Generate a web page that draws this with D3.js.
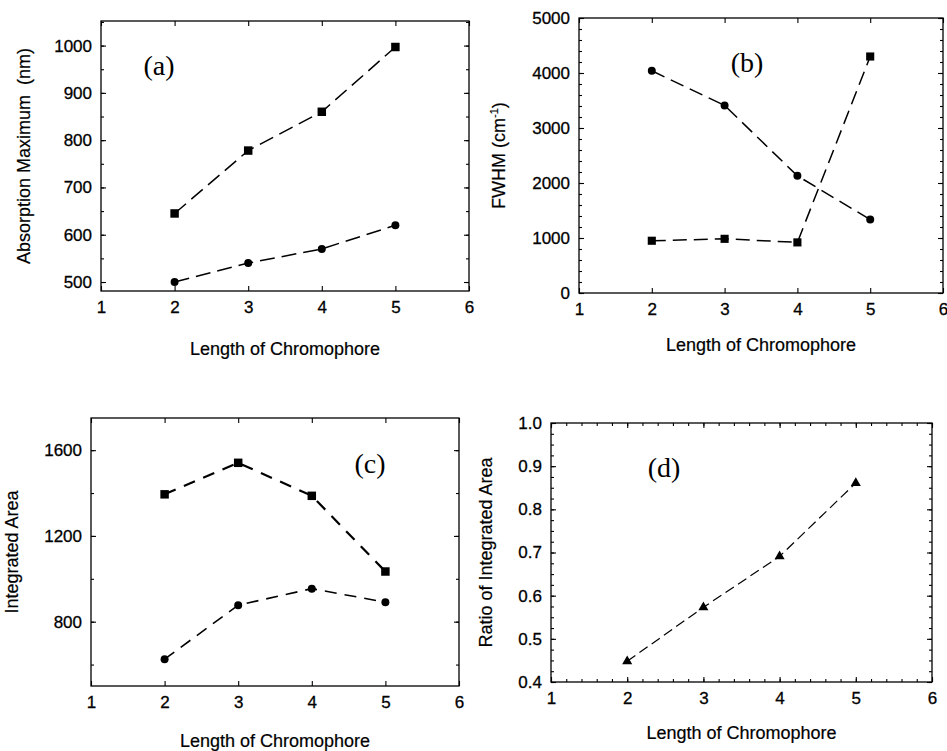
<!DOCTYPE html>
<html>
<head>
<meta charset="utf-8">
<script src="https://cdn.jsdelivr.net/npm/d3@7"></script>
<style>
  body { margin: 0; background: #fff; }
  svg { display: block; }
</style>
</head>
<body>
<svg id="chart" width="947" height="751"></svg>
<script>
// values
let chromoLength = [2, 3, 4, 5];
let xTicks = [1, 2, 3, 4, 5, 6];

// (a) absorption maximum, nm
let absMaxSquare = [645, 778, 860, 997];
let absMaxCircle = [500, 540, 570, 620];
let absTicks = [500, 600, 700, 800, 900, 1000];

// (b) FWHM, cm-1
let fwhmCircle = [4040, 3410, 2130, 1335];
let fwhmSquare = [950, 985, 920, 4300];
let fwhmTicks = [0, 1000, 2000, 3000, 4000, 5000];

// (c) integrated area
let areaSquare = [1394, 1541, 1387, 1034];
let areaCircle = [625, 877, 954, 891];
let areaTicks = [800, 1200, 1600];

// (d) ratio of integrated area
let areaRatio = [0.448, 0.573, 0.691, 0.861];
let ratioTicks = [0.4, 0.5, 0.6, 0.7, 0.8, 0.9, 1.0];

let xTitle = 'Length of Chromophore';

let svg = d3.select('#chart');
let sans = '"Liberation Sans", Arial, sans-serif';

let panels = [
  {
    tag: '(a)', box: {l: 101, t: 21, r: 469, b: 291}, tagPos: [159, 75],
    yDomain: [481, 1052], yTicks: absTicks, yMinor: d3.range(500, 1052, 50),
    yFormat: d3.format('d'), xMinor: [],
    yLabel: 'Absorption Maximum\u00a0\u00a0(nm)', yLabelX: 30, xLabelDy: 64,
    series: [
      {values: absMaxSquare, shape: d3.symbolSquare, size: 72, dash: '15,7', width: 1.5},
      {values: absMaxCircle, shape: d3.symbolCircle, size: 50, dash: '15,7', width: 1.5}
    ]
  },
  {
    tag: '(b)', box: {l: 579, t: 18, r: 943, b: 293}, tagPos: [747, 72],
    yDomain: [0, 5000], yTicks: fwhmTicks, yMinor: d3.range(0, 5001, 200),
    yFormat: d3.format('d'), xMinor: [],
    yLabel: 'FWHM', yLabelX: 505, xLabelDy: 58, superscript: true,
    series: [
      {values: fwhmCircle, shape: d3.symbolCircle, size: 50, dash: '14,7', width: 1.5},
      {values: fwhmSquare, shape: d3.symbolSquare, size: 66, dash: '14,7', width: 1.5}
    ]
  },
  {
    tag: '(c)', box: {l: 91, t: 418, r: 459, b: 686}, tagPos: [370, 473],
    yDomain: [500, 1750], yTicks: areaTicks, yMinor: d3.range(600, 1750, 200),
    yFormat: d3.format('d'), xMinor: [],
    yLabel: 'Integrated Area', yLabelX: 18, xLabelDy: 61,
    series: [
      {values: areaSquare, shape: d3.symbolSquare, size: 72, dash: '12,9', width: 2.2},
      {values: areaCircle, shape: d3.symbolCircle, size: 50, dash: '12,8', width: 1.6}
    ]
  },
  {
    tag: '(d)', box: {l: 551, t: 423, r: 932, b: 682}, tagPos: [664, 477],
    yDomain: [0.4, 1.0], yTicks: ratioTicks, yMinor: d3.range(0.4, 1.0001, 0.025),
    yFormat: d3.format('.1f'), xMinor: d3.range(1, 6.001, 0.2),
    yLabel: 'Ratio of Integrated Area', yLabelX: 492, xLabelDy: 57,
    series: [
      {values: areaRatio, shape: d3.symbolTriangle, size: 44, dash: '10,5', width: 1.2}
    ]
  }
];

let drawPanel = (p) => {
  let box = p.box;
  let x = d3.scaleLinear().domain([1, 6]).range([box.l, box.r]);
  let y = d3.scaleLinear().domain(p.yDomain).range([box.b, box.t]);
  let g = svg.append('g');

  // major ticks with labels on left and bottom, mirrored on top and right
  g.append('g').attr('transform', `translate(0,${box.b})`).
  call(d3.axisBottom(x).tickValues(xTicks).tickSizeInner(-5).tickSizeOuter(0).tickPadding(10).tickFormat(d3.format('d')));
  g.append('g').attr('transform', `translate(${box.l},0)`).
  call(d3.axisLeft(y).tickValues(p.yTicks).tickSizeInner(-5).tickSizeOuter(0).tickPadding(9).tickFormat(p.yFormat));
  g.append('g').attr('transform', `translate(0,${box.t})`).
  call(d3.axisTop(x).tickValues(xTicks).tickSizeInner(-5).tickSizeOuter(0).tickFormat(''));
  g.append('g').attr('transform', `translate(${box.r},0)`).
  call(d3.axisRight(y).tickValues(p.yTicks).tickSizeInner(-5).tickSizeOuter(0).tickFormat(''));

  // minor ticks
  g.append('g').attr('transform', `translate(${box.l},0)`).
  call(d3.axisLeft(y).tickValues(p.yMinor).tickSizeInner(-3).tickSizeOuter(0).tickFormat(''));
  g.append('g').attr('transform', `translate(${box.r},0)`).
  call(d3.axisRight(y).tickValues(p.yMinor).tickSizeInner(-3).tickSizeOuter(0).tickFormat(''));
  g.append('g').attr('transform', `translate(0,${box.b})`).
  call(d3.axisBottom(x).tickValues(p.xMinor).tickSizeInner(-3).tickSizeOuter(0).tickFormat(''));
  g.append('g').attr('transform', `translate(0,${box.t})`).
  call(d3.axisTop(x).tickValues(p.xMinor).tickSizeInner(-3).tickSizeOuter(0).tickFormat(''));

  g.selectAll('.domain').remove();
  g.selectAll('.tick line').attr('stroke', '#000').attr('stroke-width', 1.1);
  g.selectAll('.tick text').
  attr('fill', '#000').
  attr('stroke', '#000').attr('stroke-width', 0.3).
  attr('font-family', sans).
  attr('font-size', 17);

  // frame
  g.append('rect').
  attr('x', box.l).attr('y', box.t).
  attr('width', box.r - box.l).attr('height', box.b - box.t).
  attr('fill', 'none').attr('stroke', '#000').attr('stroke-width', 1.3);

  // series
  let line = d3.line().x((d, i) => x(chromoLength[i])).y(d => y(d));
  p.series.forEach(s => {
    g.append('path').
    datum(s.values).
    attr('d', line).
    attr('fill', 'none').
    attr('stroke', '#000').
    attr('stroke-width', s.width).
    attr('stroke-dasharray', s.dash);

    g.selectAll(null).
    data(s.values).
    enter().
    append('path').
    attr('d', d3.symbol().type(s.shape).size(s.size)).
    attr('transform', (d, i) => `translate(${x(chromoLength[i])},${y(d)})`).
    attr('fill', '#000');
  });

  // panel tag
  g.append('text').
  attr('x', p.tagPos[0]).attr('y', p.tagPos[1]).
  attr('text-anchor', 'middle').
  attr('font-family', '"Liberation Serif", "Times New Roman", serif').
  attr('font-size', 28).
  text(p.tag);

  // axis titles
  g.append('text').
  attr('x', (box.l + box.r) / 2).
  attr('y', box.b + p.xLabelDy).
  attr('text-anchor', 'middle').
  attr('font-family', sans).
  attr('font-size', 18).
  attr('stroke', '#000').attr('stroke-width', 0.2).
  text(xTitle);

  let yl = g.append('text').
  attr('transform', `translate(${p.yLabelX},${(box.t + box.b) / 2}) rotate(-90)`).
  attr('text-anchor', 'middle').
  attr('font-family', sans).
  attr('font-size', 18).
  attr('stroke', '#000').attr('stroke-width', 0.2);
  if (p.superscript) {
    yl.append('tspan').text(p.yLabel + ' (cm');
    yl.append('tspan').attr('dy', -7).attr('font-size', 11).text('-1');
    yl.append('tspan').attr('dy', 7).text(')');
  } else {
    yl.text(p.yLabel);
  }
};

panels.forEach(drawPanel);
</script>
</body>
</html>
